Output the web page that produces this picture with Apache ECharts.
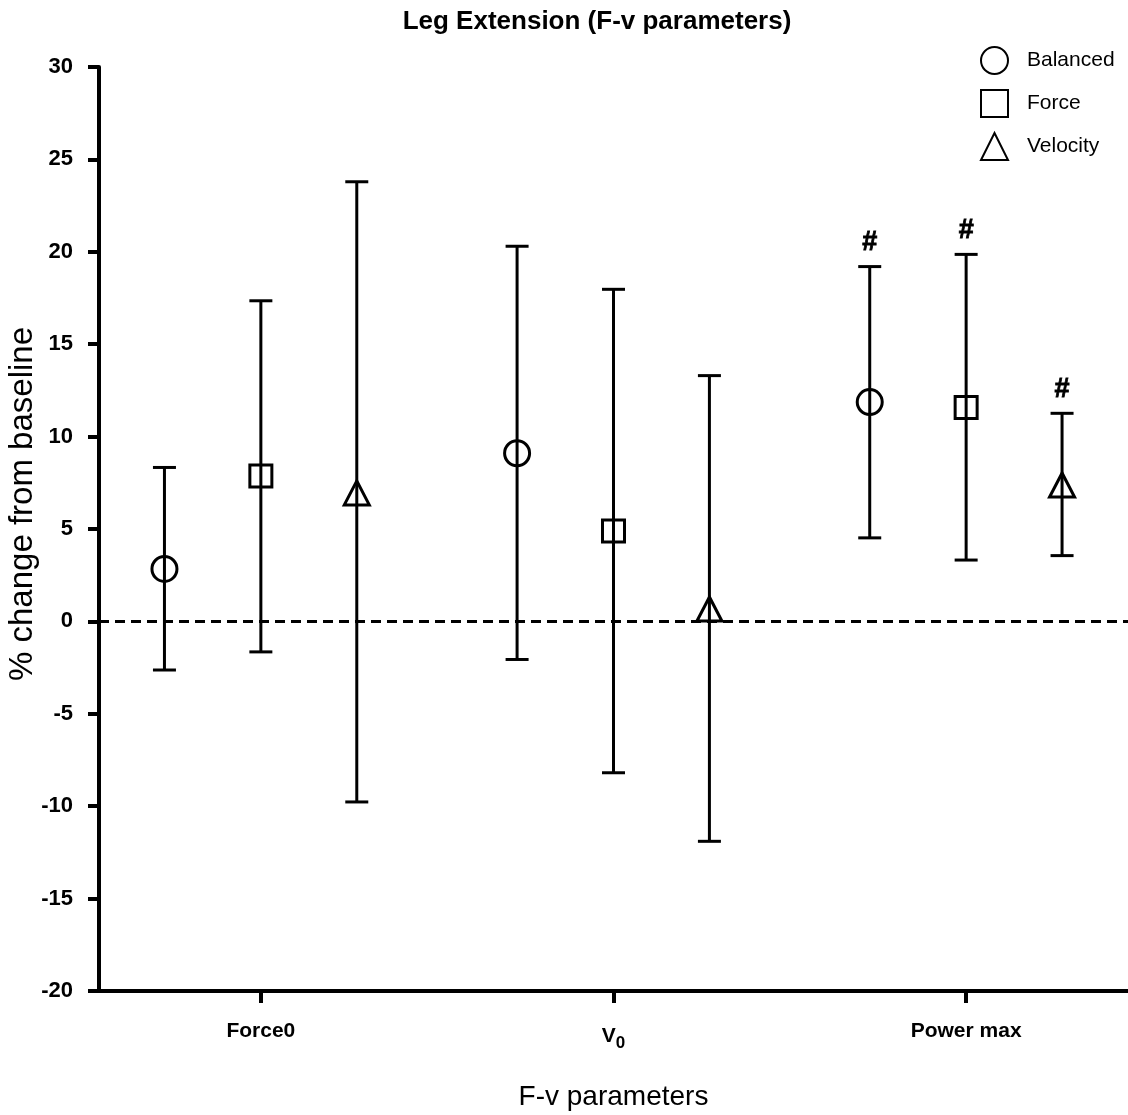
<!DOCTYPE html>
<html>
<head>
<meta charset="utf-8">
<script src="https://cdn.jsdelivr.net/npm/echarts@6/dist/echarts.min.js"></script>
<style>
  html, body { margin: 0; padding: 0; background: #ffffff; }
  #chart { width: 1128px; height: 1115px; }
</style>
</head>
<body>
<div id="chart"></div>
<script>
// F-v parameters on the x axis, three training groups per parameter
const categories = ['Force0', 'V0', 'Power max'];
const groupNames = ['Balanced', 'Force', 'Velocity'];

// % change from baseline: mean and error bar limits
const balancedMean = [2.84, 9.10, 11.87];
const balancedLow = [-2.63, -2.06, 4.52];
const balancedHigh = [8.33, 20.30, 19.20];

const forceMean = [7.87, 4.89, 11.57];
const forceLow = [-1.65, -8.19, 3.32];
const forceHigh = [17.35, 17.97, 19.86];

const velocityMean = [6.95, 0.67, 7.38];
const velocityLow = [-9.77, -11.90, 3.56];
const velocityHigh = [23.79, 13.30, 11.26];

// significance markers above the error bars
const balancedSig = ['', '', '#'];
const forceSig = ['', '', '#'];
const velocitySig = ['', '', '#'];

// y axis ticks
const yMin = -20;
const yMax = 30;
const yStep = 5;

const FONT = '"Liberation Sans", Arial, Helvetica, sans-serif';

// horizontal layout: category k sits at x = k + 1, groups are dodged around it
const catPos = categories.map((c, i) => i + 1);
const dodge = [-0.2734, 0, 0.2720];
const xMin = 0.541;
const xMax = 3.459;

const groupData = [
  { name: groupNames[0], mean: balancedMean, low: balancedLow, high: balancedHigh, sig: balancedSig,
    symbol: 'circle', size: 25 },
  { name: groupNames[1], mean: forceMean, low: forceLow, high: forceHigh, sig: forceSig,
    symbol: 'rect', size: 22 },
  { name: groupNames[2], mean: velocityMean, low: velocityLow, high: velocityHigh, sig: velocitySig,
    symbol: 'triangle', size: [25, 24] }
];

function errorBarRenderer(sig) {
  return function (params, api) {
    const x = api.value(0);
    const lo = api.coord([x, api.value(1)]);
    const hi = api.coord([x, api.value(2)]);
    const half = 11.5;
    const style = { stroke: '#000', lineWidth: 3, fill: null };
    const children = [
      { type: 'line', shape: { x1: lo[0], y1: lo[1], x2: hi[0], y2: hi[1] }, style: style },
      { type: 'line', shape: { x1: hi[0] - half, y1: hi[1], x2: hi[0] + half, y2: hi[1] }, style: style },
      { type: 'line', shape: { x1: lo[0] - half, y1: lo[1], x2: lo[0] + half, y2: lo[1] }, style: style }
    ];
    const mark = sig[params.dataIndex];
    if (mark) {
      children.push({
        type: 'text',
        x: hi[0],
        y: hi[1] - 24,
        style: {
          text: mark,
          fill: '#000',
          stroke: '#000',
          lineWidth: 0.8,
          fontFamily: FONT,
          fontWeight: 'bold',
          fontSize: 27,
          align: 'center',
          verticalAlign: 'middle'
        }
      });
    }
    return { type: 'group', children: children };
  };
}

const series = [];
groupData.forEach(function (g, gi) {
  series.push({
    name: g.name + ' SD',
    type: 'custom',
    renderItem: errorBarRenderer(g.sig),
    data: catPos.map((p, i) => [p + dodge[gi], g.low[i], g.high[i]]),
    encode: { x: 0, y: [1, 2] },
    z: 2,
    silent: true
  });
});
groupData.forEach(function (g, gi) {
  const s = {
    name: g.name,
    type: 'scatter',
    symbol: g.symbol,
    symbolSize: g.size,
    itemStyle: { color: 'rgba(255,255,255,0)', borderColor: '#000', borderWidth: 3, opacity: 1 },
    data: catPos.map((p, i) => [p + dodge[gi], g.mean[i]]),
    z: 3
  };
  if (gi === 0) {
    s.markLine = {
      silent: true,
      symbol: ['none', 'none'],
      label: { show: false },
      lineStyle: { color: '#000', width: 3, type: [10, 6] },
      data: [{ yAxis: 0 }]
    };
  }
  series.push(s);
});

const chart = echarts.init(document.getElementById('chart'), null, { renderer: 'canvas' });
chart.setOption({
  backgroundColor: '#ffffff',
  animation: false,
  textStyle: { fontFamily: FONT, color: '#000' },
  title: {
    text: 'Leg Extension (F-v parameters)',
    left: 592,
    top: 4,
    textAlign: 'center',
    textStyle: { fontFamily: FONT, fontWeight: 'bold', fontSize: 26, color: '#000' }
  },
  legend: {
    data: groupNames,
    orient: 'vertical',
    left: 975,
    top: 41,
    itemWidth: 27,
    itemHeight: 27,
    itemGap: 14,
    textStyle: { fontFamily: FONT, fontSize: 21, color: '#000', padding: [0, 0, 0, 14] }
  },
  grid: { left: 99, right: 0, top: 67, bottom: 124, containLabel: false, outerBoundsMode: 'none' },
  xAxis: {
    type: 'value',
    min: xMin,
    max: xMax,
    name: 'F-v parameters',
    nameLocation: 'middle',
    nameGap: 92,
    nameMoveOverlap: false,
    nameTextStyle: { fontFamily: FONT, fontSize: 28, color: '#000' },
    axisLine: { show: true, onZero: false, lineStyle: { color: '#000', width: 4 } },
    axisTick: { show: true, customValues: catPos, length: 12, lineStyle: { color: '#000', width: 4 } },
    axisLabel: {
      show: true,
      customValues: catPos,
      margin: 30,
      fontFamily: FONT,
      fontWeight: 'bold',
      fontSize: 21,
      color: '#000',
      formatter: function (v) {
        const name = categories[Math.round(v) - 1];
        if (name === 'V0') return '{b|V}{sub|0}';
        return name;
      },
      rich: {
        b: { fontFamily: FONT, fontWeight: 'bold', fontSize: 21, color: '#000' },
        sub: { fontFamily: FONT, fontSize: 17, color: '#000', padding: [14, 0, 0, 0] }
      }
    },
    splitLine: { show: false }
  },
  yAxis: {
    type: 'value',
    min: yMin,
    max: yMax,
    interval: yStep,
    name: '% change from baseline',
    nameLocation: 'middle',
    nameRotate: 90,
    nameGap: 60,
    nameMoveOverlap: false,
    nameTextStyle: { fontFamily: FONT, fontSize: 33, color: '#000', padding: [0, 0, 0, 50] },
    axisLine: { show: true, onZero: false, lineStyle: { color: '#000', width: 4 } },
    axisTick: { show: true, length: 11, lineStyle: { color: '#000', width: 4 } },
    axisLabel: { margin: 26, fontFamily: FONT, fontWeight: 'bold', fontSize: 22, color: '#000' },
    splitLine: { show: false }
  },
  series: series
});
</script>
</body>
</html>
